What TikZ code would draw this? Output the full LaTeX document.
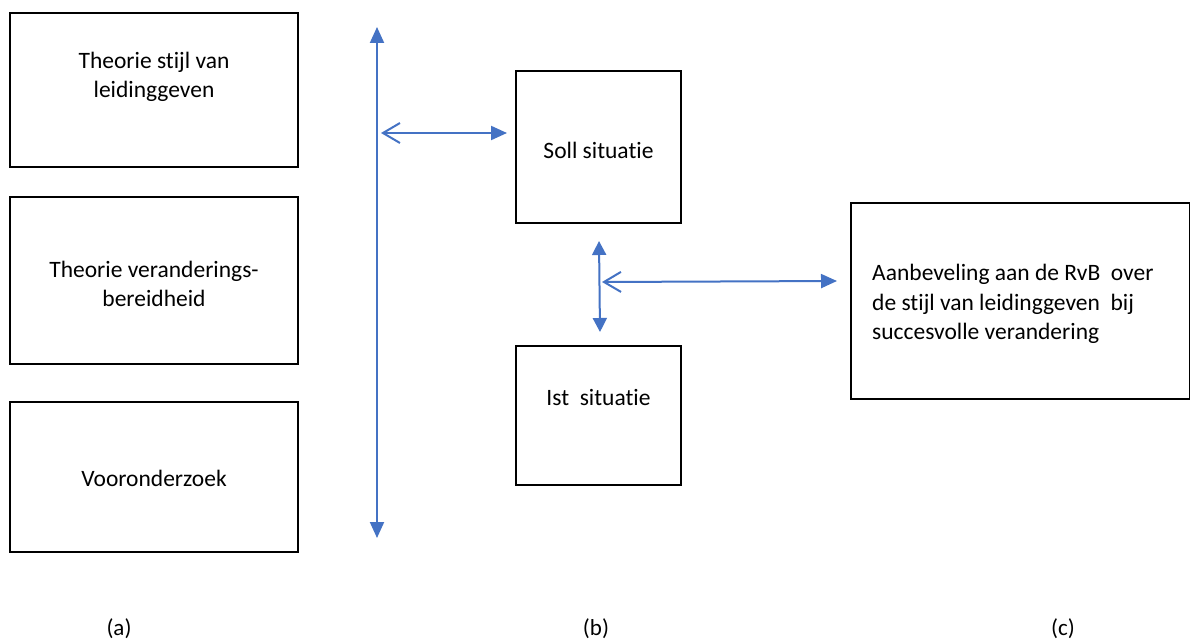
\documentclass[tikz,border=0pt]{standalone}
\usepackage{fontspec}
\setmainfont{Carlito}[RawFeature={-liga}]
\usetikzlibrary{arrows.meta}
\definecolor{arrblue}{HTML}{4472C4}
\begin{document}
\begin{tikzpicture}[x=1pt,y=-1pt,
  box/.style={draw=black,line width=1.8pt,inner sep=0pt,outer sep=0pt},
  txt/.style={font=\fontsize{23.5}{29.5}\selectfont,align=center,inner sep=0pt},
  lbl/.style={font=\fontsize{23}{28}\selectfont,inner sep=0pt},
  conn/.style={draw=arrblue,line width=2pt}]
\useasboundingbox (0,0) rectangle (1190,642);
\fill[white] (0,0) rectangle (1190,642);
% left boxes
\node[box,minimum width=288pt,minimum height=154pt] (b1) at (154,90) {};
\node[box,minimum width=288pt,minimum height=167pt] (b2) at (154,280.5) {};
\node[box,minimum width=288pt,minimum height=150pt] (b3) at (154,477) {};
\node[txt] (t1) at (154,77) {Theorie stijl van\\leidinggeven};
\node[txt] (t2) at (154,284) {Theorie veranderings-\\bereidheid};
\node[txt] (t3) at (154,478) {Vooronderzoek};
% middle boxes
\node[box,minimum width=165pt,minimum height=152pt] (soll) at (598.5,147) {};
\node[box,minimum width=165pt,minimum height=139pt] (ist) at (598.5,415.5) {};
\node[txt] (ts) at (598.5,150) {Soll situatie};
\node[txt] (ti) at (598.5,397) {Ist\ \ situatie};
% right box
\node[box,minimum width=339pt,minimum height=196pt] (rec) at (1020.5,301) {};
\node[txt,align=left,anchor=west] (tr) at (872,304) {Aanbeveling aan de RvB\ \ over\\de stijl van leidinggeven\ \ bij\\succesvolle verandering};
% connectors
\coordinate (vt) at (377,27);
\coordinate (vb) at (377,538);
\coordinate (vh) at (381,133);
\coordinate (sh) at (507,133);
\draw[conn,{Triangle[length=16pt,width=14pt]}-{Triangle[length=16pt,width=14pt]}] (vt) -- (vb);
\draw[conn,{Straight Barb[length=17pt,width=20pt]}-{Triangle[length=16pt,width=14pt]}] (vh) -- (sh);
\coordinate (mt) at (599,241);
\coordinate (mb) at (600,332);
\coordinate (mh) at (602,282);
\coordinate (rh) at (837,281);
\draw[conn,{Triangle[length=14pt,width=14pt]}-{Triangle[length=14pt,width=14pt]}] (mt) -- (mb);
\draw[conn,{Straight Barb[length=17pt,width=20pt]}-{Triangle[length=16pt,width=14pt]}] (mh) -- (rh);
% labels
\node[lbl] (la) at (119,629) {(a)};
\node[lbl] (lb) at (596,629) {(b)};
\node[lbl] (lc) at (1063,629) {(c)};
\end{tikzpicture}
\end{document}
